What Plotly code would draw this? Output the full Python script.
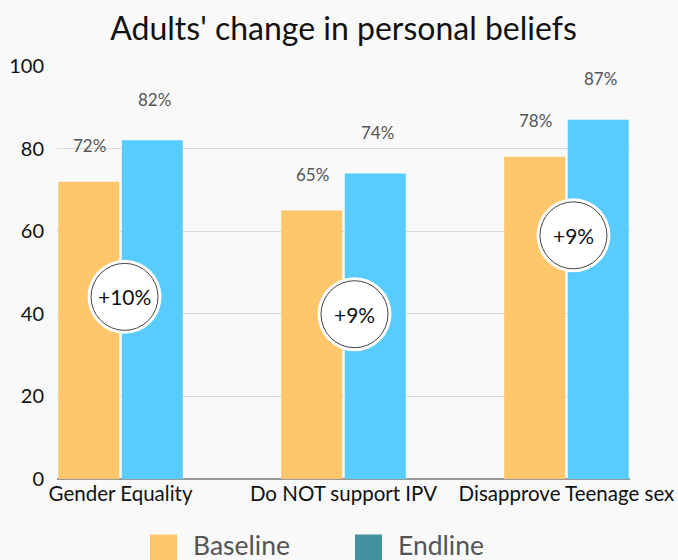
import plotly.graph_objects as go

categories = ["Gender Equality", "Do NOT support IPV", "Disapprove Teenage sex"]
baseline = [72, 65, 78]
endline = [82, 74, 87]
change_labels = ["+10%", "+9%", "+9%"]
y_ticks = [0, 20, 40, 60, 80, 100]

# styling / placement constants
BASE_COLOR = "#FFC66B"
END_COLOR = "#58CCFF"
END_LEGEND_COLOR = "#43919D"
BG = "#F9F9F9"
FONT = "Lato"
badge_y = [44.1, 39.9, 59.0]
badge_dx = [4, 11, 7]

fig = go.Figure()
fig.add_trace(go.Bar(x=categories, y=baseline, name="Baseline",
                     marker=dict(color=BASE_COLOR, line=dict(width=0)),
                     showlegend=False, hoverinfo="x+y"))
fig.add_trace(go.Bar(x=categories, y=endline, name="Endline",
                     marker=dict(color=END_COLOR, line=dict(width=0)),
                     showlegend=False, hoverinfo="x+y"))

annotations = []
shapes = []
for i, c in enumerate(categories):
    annotations.append(dict(x=c, y=baseline[i], xref="x", yref="y",
                            text=f"{baseline[i]}%", showarrow=False,
                            xshift=-31, yshift=36,
                            font=dict(family=FONT, size=17, color="#555555")))
    annotations.append(dict(x=c, y=endline[i], xref="x", yref="y",
                            text=f"{endline[i]}%", showarrow=False,
                            xshift=34, yshift=41,
                            font=dict(family=FONT, size=17, color="#555555")))
    dx = badge_dx[i]
    shapes.append(dict(type="circle", xref="x", yref="y",
                       xsizemode="pixel", ysizemode="pixel",
                       xanchor=i, yanchor=badge_y[i],
                       x0=dx - 37, x1=dx + 37, y0=-37, y1=37,
                       fillcolor="white", line=dict(width=0), layer="above"))
    shapes.append(dict(type="circle", xref="x", yref="y",
                       xsizemode="pixel", ysizemode="pixel",
                       xanchor=i, yanchor=badge_y[i],
                       x0=dx - 33.5, x1=dx + 33.5, y0=-33.5, y1=33.5,
                       fillcolor="white", line=dict(width=1, color="#444444"),
                       layer="above"))
    annotations.append(dict(x=c, y=badge_y[i], xref="x", yref="y",
                            text=change_labels[i], showarrow=False,
                            xshift=dx,
                            font=dict(family=FONT, size=21, color="#111111")))

# custom legend
legend_items = [("Baseline", BASE_COLOR, 150), ("Endline", END_LEGEND_COLOR, 355)]
for name, col, px in legend_items:
    shapes.append(dict(type="rect", xref="paper", yref="paper",
                       x0=(px - 57) / 573, x1=(px + 27 - 57) / 573,
                       y0=-(535 - 479.5) / 413, y1=-(562 - 479.5) / 413,
                       fillcolor=col, line=dict(width=0), layer="above"))
    annotations.append(dict(x=(px + 41 - 57) / 573, y=-(545 - 479.5) / 413,
                            xref="paper", yref="paper", xanchor="left",
                            yanchor="middle", text=name, showarrow=False,
                            font=dict(family=FONT, size=26.5, color="#555555")))

fig.update_layout(
    width=678, height=560,
    margin=dict(l=57, r=48, t=66, b=81),
    paper_bgcolor=BG, plot_bgcolor=BG,
    barmode="group", bargap=0.43, bargroupgap=0.04,
    title=dict(text="Adults' change in personal beliefs", x=0.5, xref="paper",
               y=1 - 29 / 560, yanchor="middle",
               font=dict(family=FONT, size=32, color="#111111")),
    font=dict(family=FONT),
    showlegend=False,
    annotations=annotations,
    shapes=shapes,
    xaxis=dict(range=[-0.285, 2.285], showgrid=False, zeroline=False,
               showline=False, ticks="", automargin=False,
               tickfont=dict(family=FONT, size=20.5, color="#111111")),
    yaxis=dict(range=[0, 100], tickvals=y_ticks, showgrid=True,
               gridcolor="#D9D9D9", gridwidth=1, zeroline=True,
               zerolinecolor="#999999", zerolinewidth=1.5,
               ticklabelstandoff=12, automargin=False,
               tickfont=dict(family=FONT, size=20, color="#111111")),
)

fig.write_html("out.html", config={"displayModeBar": False},
               post_script="document.body.style.margin='0';")
